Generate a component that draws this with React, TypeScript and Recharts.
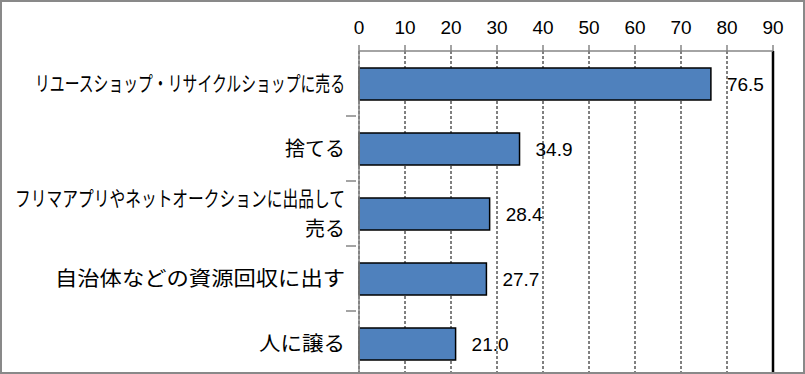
import React from 'react';
import { BarChart, Bar, XAxis, YAxis, CartesianGrid, LabelList, ReferenceLine } from 'recharts';

const categories = [
  'リユースショップ・リサイクルショップに売る',
  '捨てる',
  'フリマアプリやネットオークションに出品して\n売る',
  '自治体などの資源回収に出す',
  '人に譲る',
];
const values = [76.5, 34.9, 28.4, 27.7, 21.0];
const xTicks = [0, 10, 20, 30, 40, 50, 60, 70, 80, 90];

// text fitting (style only): target widths of each label line, in px
const labelFit: Record<string, number> = {
  'リユースショップ・リサイクルショップに売る': 310,
  '捨てる': 60,
  'フリマアプリやネットオークションに出品して': 330,
  '売る': 40,
  '自治体などの資源回収に出す': 290,
  '人に譲る': 86,
};

const data = categories.map((name, i) => ({ name, value: values[i] }));

const FONT_JP = '"Noto Sans CJK JP", "Noto Sans", sans-serif';
const FONT_NUM = '"Liberation Sans", Arial, sans-serif';
const AXIS = '#868686';

const XTick = (props: any) => {
  const { x, payload } = props;
  return (
    <text x={x} y={34} textAnchor="middle" fontFamily={FONT_NUM} fontSize={19} fill="#000">
      {payload.value}
    </text>
  );
};

const YTick = (props: any) => {
  const { x, y, payload, index } = props;
  const lines: string[] = String(payload.value).split('\n');
  const lh = 30;
  const startY = y - ((lines.length - 1) * lh) / 2;
  const band = 65;
  return (
    <g>
      {index < categories.length - 1 && (
        <line x1={x - 5} x2={x + 5} y1={y + band / 2} y2={y + band / 2} stroke={AXIS} strokeWidth={1.5} />
      )}
      {lines.map((ln, i) => (
        <text
          key={i}
          x={345}
          y={startY + i * lh}
          dy="0.35em"
          textAnchor="end"
          fontFamily={FONT_JP}
          fontSize={ln.length > 15 ? 21 : 20}
          fill="#000"
          textLength={labelFit[ln]}
          lengthAdjust="spacingAndGlyphs"
        >
          {ln}
        </text>
      ))}
    </g>
  );
};

export default function App() {
  return (
    <div style={{ position: 'absolute', left: 0, top: 0, width: 805, height: 374, overflow: 'hidden', background: '#fff' }}>
      <BarChart
        width={805}
        height={376}
        data={data}
        layout="vertical"
        margin={{ top: 0, right: 32, bottom: 0, left: 0 }}
        barCategoryGap={0}
      >
        <CartesianGrid horizontal={false} vertical stroke="#000" strokeDasharray="3 2" strokeWidth={1} />
        <XAxis
          type="number"
          orientation="top"
          domain={[0, 90]}
          ticks={xTicks}
          height={51}
          axisLine={{ stroke: AXIS, strokeWidth: 1.5 }}
          tickLine={{ stroke: AXIS, strokeWidth: 1.5 }}
          tickSize={6}
          tick={<XTick />}
          interval={0}
        />
        <YAxis
          type="category"
          dataKey="name"
          width={359}
          axisLine={{ stroke: AXIS, strokeWidth: 1.5 }}
          tickLine={false}
          tick={<YTick />}
          interval={0}
        />
        <ReferenceLine x={90} stroke="#000" strokeWidth={2.5} />
        <Bar dataKey="value" fill="#4F81BD" stroke="#000" strokeWidth={1.5} barSize={32} isAnimationActive={false}>
          <LabelList
            dataKey="value"
            position="right"
            offset={16}
            fill="#000"
            fontSize={19}
            fontFamily={FONT_NUM}
            formatter={(v: any) => Number(v).toFixed(1)}
          />
        </Bar>
      </BarChart>
      <div
        style={{
          position: 'absolute',
          left: 0,
          top: 0,
          width: 805,
          height: 374,
          boxSizing: 'border-box',
          border: '2px solid #898989',
          pointerEvents: 'none',
        }}
      />
    </div>
  );
}
